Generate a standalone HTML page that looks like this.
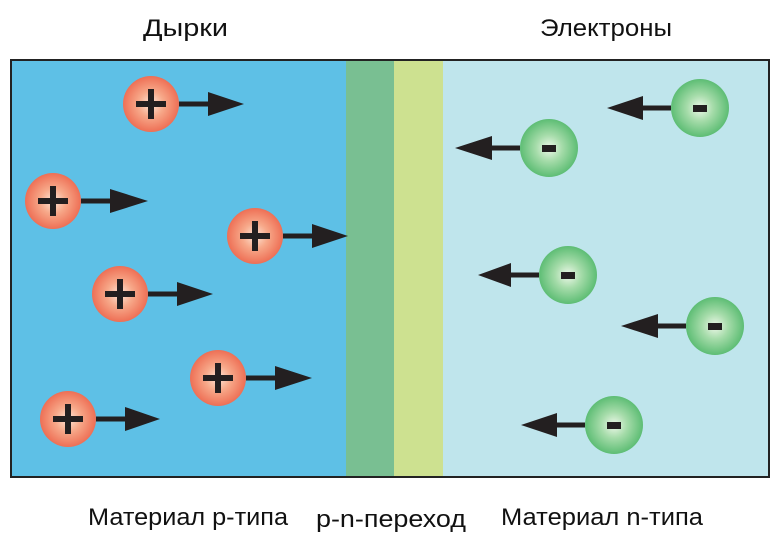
<!DOCTYPE html>
<html><head><meta charset="utf-8"><style>html,body{margin:0;padding:0;background:#fff}svg{display:block}</style></head>
<body>
<svg width="782" height="543" viewBox="0 0 782 543" xmlns="http://www.w3.org/2000/svg" font-family="Liberation Sans, DejaVu Sans, sans-serif">
<defs>
<radialGradient id="r" cx="50%" cy="50%" r="50%"><stop offset="0" stop-color="#fde6d8"/><stop offset="0.45" stop-color="#f7a98a"/><stop offset="1" stop-color="#ee6f55"/></radialGradient>
<radialGradient id="g" cx="50%" cy="50%" r="50%"><stop offset="0" stop-color="#eef8ea"/><stop offset="0.45" stop-color="#a6dcaa"/><stop offset="1" stop-color="#5dbd74"/></radialGradient>
</defs>
<rect x="11" y="60" width="335" height="417" fill="#5ec0e6"/>
<rect x="346" y="60" width="48" height="417" fill="#79bf92"/>
<rect x="394" y="60" width="49" height="417" fill="#cde190"/>
<rect x="443" y="60" width="326" height="417" fill="#bfe5ec"/>
<rect x="11" y="60" width="758" height="417" fill="none" stroke="#222" stroke-width="2"/>
<g font-size="24" fill="#111">
<text x="143" y="36" textLength="85" lengthAdjust="spacingAndGlyphs">Дырки</text>
<text x="540" y="36" textLength="132" lengthAdjust="spacingAndGlyphs">Электроны</text>
<text x="88" y="525" textLength="200" lengthAdjust="spacingAndGlyphs">Материал p-типа</text>
<text x="316" y="527" textLength="150" lengthAdjust="spacingAndGlyphs">p-n-переход</text>
<text x="501" y="525" textLength="202" lengthAdjust="spacingAndGlyphs">Материал n-типа</text>
</g>
<g>
<g transform="translate(151,104)"><line x1="28" y1="0" x2="60" y2="0" stroke="#231f20" stroke-width="5"/><polygon points="57,-12 93,0 57,12" fill="#231f20"/><circle r="28" fill="url(#r)"/><rect x="-15" y="-3" width="30" height="6" fill="#231f20"/><rect x="-3" y="-15" width="6" height="30" fill="#231f20"/></g>
<g transform="translate(53,201)"><line x1="28" y1="0" x2="60" y2="0" stroke="#231f20" stroke-width="5"/><polygon points="57,-12 95,0 57,12" fill="#231f20"/><circle r="28" fill="url(#r)"/><rect x="-15" y="-3" width="30" height="6" fill="#231f20"/><rect x="-3" y="-15" width="6" height="30" fill="#231f20"/></g>
<g transform="translate(255,236)"><line x1="28" y1="0" x2="60" y2="0" stroke="#231f20" stroke-width="5"/><polygon points="57,-12 93,0 57,12" fill="#231f20"/><circle r="28" fill="url(#r)"/><rect x="-15" y="-3" width="30" height="6" fill="#231f20"/><rect x="-3" y="-15" width="6" height="30" fill="#231f20"/></g>
<g transform="translate(120,294)"><line x1="28" y1="0" x2="60" y2="0" stroke="#231f20" stroke-width="5"/><polygon points="57,-12 93,0 57,12" fill="#231f20"/><circle r="28" fill="url(#r)"/><rect x="-15" y="-3" width="30" height="6" fill="#231f20"/><rect x="-3" y="-15" width="6" height="30" fill="#231f20"/></g>
<g transform="translate(218,378)"><line x1="28" y1="0" x2="60" y2="0" stroke="#231f20" stroke-width="5"/><polygon points="57,-12 94,0 57,12" fill="#231f20"/><circle r="28" fill="url(#r)"/><rect x="-15" y="-3" width="30" height="6" fill="#231f20"/><rect x="-3" y="-15" width="6" height="30" fill="#231f20"/></g>
<g transform="translate(68,419)"><line x1="28" y1="0" x2="60" y2="0" stroke="#231f20" stroke-width="5"/><polygon points="57,-12 92,0 57,12" fill="#231f20"/><circle r="28" fill="url(#r)"/><rect x="-15" y="-3" width="30" height="6" fill="#231f20"/><rect x="-3" y="-15" width="6" height="30" fill="#231f20"/></g>
</g>
<g>
<g transform="translate(700,108)"><line x1="-29" y1="0" x2="-60" y2="0" stroke="#231f20" stroke-width="5"/><polygon points="-57,-12 -93,0 -57,12" fill="#231f20"/><circle r="29" fill="url(#g)"/><rect x="-7" y="-3" width="14" height="7" fill="#231f20"/></g>
<g transform="translate(549,148)"><line x1="-29" y1="0" x2="-60" y2="0" stroke="#231f20" stroke-width="5"/><polygon points="-57,-12 -94,0 -57,12" fill="#231f20"/><circle r="29" fill="url(#g)"/><rect x="-7" y="-3" width="14" height="7" fill="#231f20"/></g>
<g transform="translate(568,275)"><line x1="-29" y1="0" x2="-60" y2="0" stroke="#231f20" stroke-width="5"/><polygon points="-57,-12 -90,0 -57,12" fill="#231f20"/><circle r="29" fill="url(#g)"/><rect x="-7" y="-3" width="14" height="7" fill="#231f20"/></g>
<g transform="translate(715,326)"><line x1="-29" y1="0" x2="-60" y2="0" stroke="#231f20" stroke-width="5"/><polygon points="-57,-12 -94,0 -57,12" fill="#231f20"/><circle r="29" fill="url(#g)"/><rect x="-7" y="-3" width="14" height="7" fill="#231f20"/></g>
<g transform="translate(614,425)"><line x1="-29" y1="0" x2="-60" y2="0" stroke="#231f20" stroke-width="5"/><polygon points="-57,-12 -93,0 -57,12" fill="#231f20"/><circle r="29" fill="url(#g)"/><rect x="-7" y="-3" width="14" height="7" fill="#231f20"/></g>
</g>
</svg>
</body></html>
